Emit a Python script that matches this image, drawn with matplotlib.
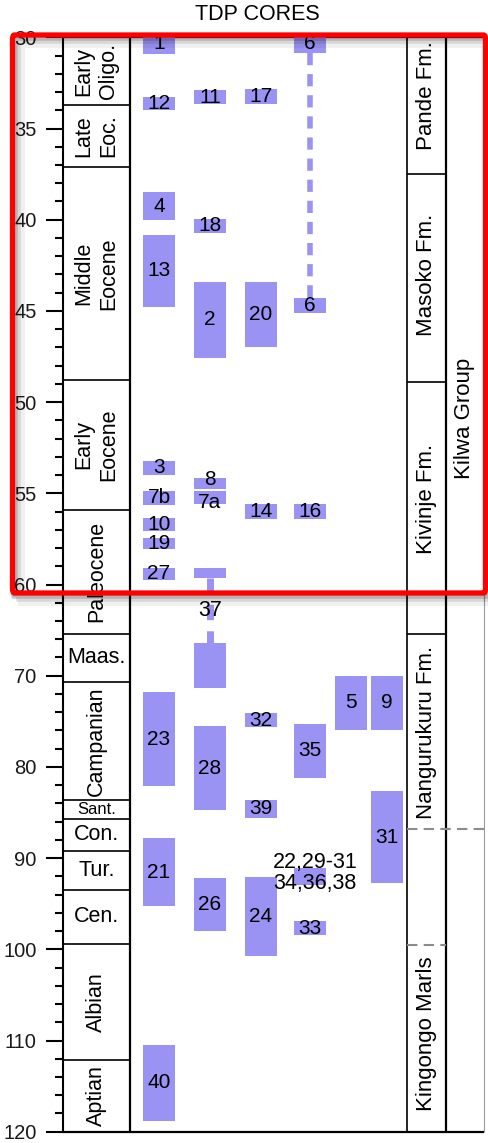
import numpy as np
import matplotlib
matplotlib.use("Agg")
import matplotlib.pyplot as plt
from matplotlib.patches import Rectangle, FancyBboxPatch
from matplotlib.ticker import FixedLocator, FixedFormatter
from matplotlib.transforms import offset_copy

plt.rcParams['font.family'] = ['Liberation Sans', 'DejaVu Sans']

# ---------------- data ----------------
title = "TDP CORES"
major_ticks = [30, 35, 40, 45, 50, 55, 60, 70, 80, 90, 100, 110, 120]
minor_ticks_upper = list(range(31, 60))
minor_ticks_lower = list(range(62, 120, 2))

epoch_names = ["Early\nOligo.", "Late\nEoc.", "Middle\nEocene", "Early\nEocene", "Paleocene",
               "Maas.", "Campanian", "Sant.", "Con.", "Tur.", "Cen.", "Albian", "Aptian"]
epoch_tops = [30.0, 33.7, 37.1, 48.8, 55.9, 65.4, 70.7, 83.6, 85.7, 89.2, 93.5, 99.4, 112.1]
epoch_bases = [33.7, 37.1, 48.8, 55.9, 65.4, 70.7, 83.6, 85.7, 89.2, 93.5, 99.4, 112.1, 120.0]
epoch_vertical = [True, True, True, True, True, False, True, False, False, False, False, True, True]
epoch_small = [False, False, False, False, False, False, False, True, False, False, False, False, False]

formation_names = ["Pande Fm.", "Masoko Fm.", "Kivinje Fm.", "Nangurukuru Fm.", "Kingongo Marls"]
formation_label_ages = [33.2, 43.0, 55.3, 76.2, 109.3]
formation_solid_contacts = [37.5, 48.9, 65.4]
formation_dashed_contacts = [86.8, 99.5]
formation_dashed_full = [True, False]   # dashed contact crosses group column too

group_name = "Kilwa Group"
group_label_age = 50.9

# core samples: label, top age, base age, core column
core_labels = ["1", "12", "4", "13", "3", "7b", "10", "19", "27", "23", "21", "40",
               "11", "18", "2", "8", "7a", "", "", "28", "26",
               "17", "20", "14", "32", "39", "24",
               "6", "6", "16", "35", "", "33",
               "5",
               "9", "31"]
core_tops = [29.8, 33.26, 38.5, 40.86, 53.22, 54.87, 56.37, 57.44, 59.09, 71.82, 87.77, 110.5,
             32.9, 39.98, 43.39, 54.14, 54.9, 59.09, 66.4, 75.55, 92.15,
             32.86, 43.4, 55.57, 74.12, 83.6, 92.08,
             29.8, 44.3, 55.57, 75.29, 91.05, 96.9,
             70.07,
             70.07, 82.66]
core_bases = [30.9, 34.0, 40.04, 44.76, 53.99, 55.64, 57.07, 58.08, 59.73, 82.12, 95.3, 118.8,
              33.66, 40.71, 47.58, 54.78, 55.6, 59.67, 71.3, 84.7, 98.0,
              33.66, 47.0, 56.43, 75.66, 85.58, 100.76,
              30.85, 45.13, 56.43, 81.2, 92.99, 98.46,
              75.9,
              75.9, 92.73]
core_columns = [1] * 12 + [2] * 9 + [3] * 6 + [4] * 6 + [5] + [6] * 2

# dashed connectors between pieces of the same sample
connector_columns = [4, 2]
connector_from = [30.85, 59.67]
connector_to = [44.3, 66.4]
connector_labels = ["", "37"]

# free-standing sample list near core column 4
extra_labels = ["22,29-31", "34,36,38"]
extra_ages = [90.45, 92.8]
extra_columns = [4, 4]

# ---------------- layout / style ----------------
W, H = 489, 1143
BAR = "#9b93f4"
col_x = {1: 159, 2: 210, 3: 261, 4: 310, 5: 351, 6: 387}
label_nudge_px = {"8": 3, "7a": -3}   # vertical nudge of crowded labels (points, + = up)
extra_dx = 5
bar_w = 32
X0, X_EPOCH, X_FORM, X_GROUP, X1 = 63, 130, 407, 446, 484
y_top_px, y_bot_px = 37.3, 1131.7


def fwd(a):
    a = np.asarray(a, dtype=float)
    return np.where(a <= 60, a, 60 + (a - 60) / 2.0)


def inv(t):
    t = np.asarray(t, dtype=float)
    return np.where(t <= 60, t, 60 + (t - 60) * 2.0)


def mid_age(a, b):
    return float(inv((fwd(a) + fwd(b)) / 2.0))


fig = plt.figure(figsize=(W / 100, H / 100), dpi=100)
ax = fig.add_axes([X0 / W, 1 - y_bot_px / H, (X1 - X0) / W, (y_bot_px - y_top_px) / H])
ax.set_yscale('function', functions=(fwd, inv))
ax.set_ylim(120, 30)
ax.set_xlim(X0, X1)

for s in ['top', 'right', 'bottom']:
    ax.spines[s].set_visible(False)
ax.spines['left'].set_linewidth(1.5)
ax.set_xticks([])
ax.yaxis.set_major_locator(FixedLocator(major_ticks))
ax.yaxis.set_major_formatter(FixedFormatter([str(t) for t in major_ticks]))
ax.yaxis.set_minor_locator(FixedLocator(minor_ticks_upper + minor_ticks_lower))
ax.tick_params(axis='y', which='major', length=12, width=1.5, pad=7, labelsize=14.5,
               labelcolor='#1a1a1a', direction='out')
ax.tick_params(axis='y', which='minor', length=6, width=1.5, direction='out')

# frame lines
lk = dict(color='black', clip_on=False)
ax.vlines([X_EPOCH], 30, 120, lw=1.6, **lk)
ax.vlines([X_FORM], 30, 120, lw=1.2, **lk)
ax.vlines([X_GROUP], 30, 120, lw=1.6, **lk)
ax.vlines([X1], 30, 120, lw=0.8, color='#9a9a9a', clip_on=False)
ax.hlines([30, 120], X0, X1, lw=1.6, **lk)

# epochs
ax.hlines(epoch_tops[1:], X0, X_EPOCH, lw=1.2, **lk)
for name, t, b, vert, small in zip(epoch_names, epoch_tops, epoch_bases, epoch_vertical, epoch_small):
    ax.text((X0 + X_EPOCH) / 2, mid_age(t, b), name, rotation=90 if vert else 0,
            ha='center', va='center', multialignment='center', linespacing=1.25,
            fontsize=12 if small else 15.5, color='black')

# formations
ax.hlines(formation_solid_contacts, X_FORM, X_GROUP, lw=1.2, **lk)
for age, full in zip(formation_dashed_contacts, formation_dashed_full):
    ax.hlines([age], X_FORM, X1 if full else X_GROUP, lw=1.5, color='#8c8c8c',
              linestyles=(0, (5, 3)), clip_on=False)
for name, age in zip(formation_names, formation_label_ages):
    ax.text((X_FORM + X_GROUP) / 2, age, name, rotation=90, ha='center', va='center',
            fontsize=16, color='black')
ax.text((X_GROUP + X1) / 2, group_label_age, group_name, rotation=90, ha='center',
        va='center', fontsize=16, color='black')

# connectors
for c, a0, a1, lab in zip(connector_columns, connector_from, connector_to, connector_labels):
    lw = 4 if lab == "" else 5
    ax.plot([col_x[c], col_x[c]], [a0, a1], color=BAR, lw=lw, linestyle=(0, (2.2, 1.6)),
            solid_capstyle='butt', zorder=2)
    if lab:
        ax.text(col_x[c], mid_age(a0, a1), lab, ha='center', va='center', fontsize=15.5,
                color='black', zorder=4)

# core bars
for lab, t, b, c in zip(core_labels, core_tops, core_bases, core_columns):
    ax.bar(col_x[c], b - t, bottom=t, width=bar_w, color=BAR, edgecolor='none', zorder=3)
    if lab:
        tr = offset_copy(ax.transData, fig=fig, x=0, y=label_nudge_px.get(lab, 0), units='points')
        ax.text(col_x[c], mid_age(t, b), lab, ha='center', va='center', fontsize=15,
                color='black', zorder=4, transform=tr)

for lab, age, c in zip(extra_labels, extra_ages, extra_columns):
    ax.text(col_x[c] + extra_dx, age, lab, ha='center', va='center', fontsize=15.5,
            color='black', zorder=5)

# title
fig.text(257 / W, 1 - 15 / H, title, ha='center', va='center', fontsize=15.5, color='black')

# red highlight box with soft shadow
bx0, by0, bx1, by1 = 12.5, 35, 485.5, 593
for off, a, lw in [(6, 0.06, 10), (4, 0.10, 7), (2.5, 0.16, 4)]:
    fig.patches.append(Rectangle(((bx0 + off) / W, 1 - (by1 + off) / H), (bx1 - bx0) / W,
                                 (by1 - by0) / H, transform=fig.transFigure, fill=False,
                                 edgecolor=(0, 0, 0, a), lw=lw, zorder=9))
fig.patches.append(FancyBboxPatch((bx0 / W, 1 - by1 / H), (bx1 - bx0) / W, (by1 - by0) / H,
                                  boxstyle='round,pad=0,rounding_size=0.004',
                                  transform=fig.transFigure, fill=False,
                                  edgecolor='#ff0000', lw=3.8, zorder=10))

fig.savefig("out.png", dpi=100)
